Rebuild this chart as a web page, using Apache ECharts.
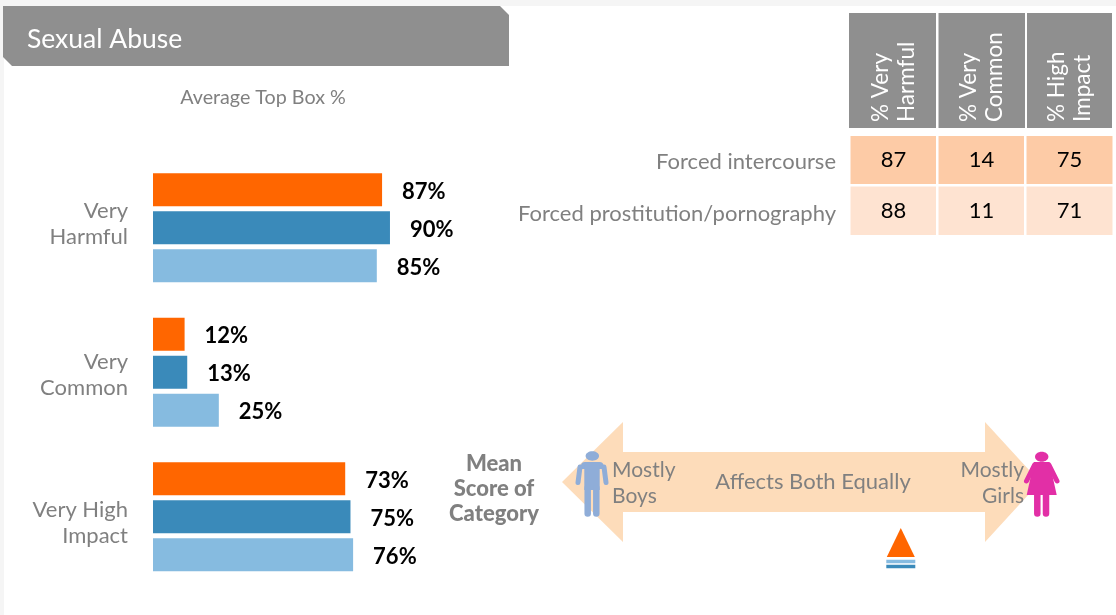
<!DOCTYPE html>
<html><head><meta charset="utf-8">
<style>html,body{margin:0;padding:0;background:#fff}#c{width:1116px;height:615px}</style>
<script src="https://cdn.jsdelivr.net/npm/echarts@6/dist/echarts.min.js"></script>
</head><body><div id="c"></div>
<script>
const FONT='Lato';
const GREY='#808080';
const measures=['Very\nHarmful','Very\nCommon','Very High\nImpact'];
const seriesOrange=[87,12,73];
const seriesBlue=[90,13,75];
const seriesLight=[85,25,76];
const tableCols=['% Very\nHarmful','% Very\nCommon','% High\nImpact'];
const tableRows=['Forced intercourse','Forced prostitution/pornography'];
const rowIntercourse=[87,14,75];
const rowProstitution=[88,11,71];
const meanScore=[70];

const chart=echarts.init(document.getElementById('c'),null,{renderer:'canvas'});
function bar(name,data,color){
  return {type:'bar',name,data,xAxisIndex:0,yAxisIndex:0,barWidth:33,barGap:'15%',
    itemStyle:{color},silent:true,animation:false,
    label:{show:true,position:'right',distance:20,offset:[0,2],formatter:'{c}%',fontFamily:FONT,fontWeight:'bold',fontSize:22,color:'#000'}};
}
const heatData=[];
rowIntercourse.forEach((v,i)=>heatData.push({value:[i,0,v],itemStyle:{color:'#fdcba6'}}));
rowProstitution.forEach((v,i)=>heatData.push({value:[i,1,v],itemStyle:{color:'#fee3d1'}}));
function mark(name,symbol,size,offset,color){
  return {type:'scatter',name,xAxisIndex:2,yAxisIndex:2,data:meanScore.map(v=>[v,0]),symbol,symbolSize:size,symbolOffset:[0,offset],
    itemStyle:{color,opacity:1},silent:true,animation:false};
}
const bg=(o)=>Object.assign({z:-10,silent:true},o);
function limb(pts,w,color){return {type:'polyline',z:2,silent:true,shape:{points:pts},style:{stroke:color,lineWidth:w,lineCap:'round',fill:null}};}
const M='#8fadd8',W='#e22fa6';
const txt=(text,x,y,align,size,extra)=>({type:'text',z:3,silent:true,x,y,style:Object.assign({text,fill:GREY,fontFamily:FONT,fontSize:size,align,verticalAlign:'middle'},extra||{})});
// Rich-text tokens: extra padding above a first line / below a last line nudges a centred label.
const tok=(size,pad)=>({fontFamily:FONT,fontSize:size,color:GREY,padding:pad,align:'right'});
const measureRich={
  p:tok(22,[2,0,2,0]),
  h1:tok(22,[2,0,2,0]),h2:tok(22,[2,0,10,0]),
  c1:tok(22,[8,0,2,0]),
  i1:tok(22,[14,0,2,0])
};
const measureFirst=['h1','c1','i1'];
const measureLast=['h2','p','p'];
const rowRich={r0:tok(22,[4,0,0,0]),r1:tok(22,[6,0,0,0])};

chart.setOption({
  animation:false,
  backgroundColor:'#fff',
  grid:[
    {left:153,top:155.5,width:263.3,height:433.5},
    {left:849.5,top:135,width:264,height:101},
    {left:562,top:520,width:484,height:55}
  ],
  xAxis:[
    {type:'value',gridIndex:0,min:0,max:100,show:false},
    {type:'category',gridIndex:1,data:tableCols,position:'top',axisLine:{show:false},axisTick:{show:false},
      axisLabel:{rotate:-90,margin:13,fontFamily:FONT,fontSize:22.5,lineHeight:26,color:'#fff'}},
    {type:'value',gridIndex:2,min:0,max:100,show:false}
  ],
  yAxis:[
    {type:'category',gridIndex:0,data:measures,inverse:true,axisLine:{show:false},axisTick:{show:false},
      axisLabel:{margin:25,rich:measureRich,
        formatter:(v,i)=>{const [a,b]=v.split('\n');return '{'+measureFirst[i]+'|'+a+'}\n{'+measureLast[i]+'|'+b+'}';}}},
    {type:'category',gridIndex:1,data:tableRows,inverse:true,axisLine:{show:false},axisTick:{show:false},
      axisLabel:{margin:13.5,rich:rowRich,formatter:(v,i)=>'{r'+i+'|'+v+'}'}},
    {type:'category',gridIndex:2,data:['mean'],show:false}
  ],
  series:[
    bar('Forced intercourse',seriesOrange,'#ff6600'),
    bar('Forced prostitution/pornography',seriesBlue,'#3a8aba'),
    bar('Average',seriesLight,'#86bbe0'),
    {type:'heatmap',xAxisIndex:1,yAxisIndex:1,data:heatData,silent:true,animation:false,
      itemStyle:{borderColor:'#fff',borderWidth:2.5},
      label:{show:true,formatter:p=>p.value[2],fontFamily:FONT,fontSize:22,color:'#000'}},
    mark('Mean','triangle',[28,29],-5,'#ff6600'),
    mark('Mean light','rect',[29,3.5],14,'#86bbe0'),
    mark('Mean blue','rect',[29,3.5],19,'#3a8aba')
  ],
  graphic:{elements:[
    bg({type:'rect',shape:{x:0,y:0,width:1116,height:6},style:{fill:'#f5f5f5'}}),
    bg({type:'rect',shape:{x:0,y:0,width:4,height:615},style:{fill:'#f5f5f5'}}),
    bg({type:'polygon',shape:{points:[[3,6],[500,6],[509,15],[509,66],[12,66],[3,57]]},style:{fill:'#8f8f8f'}}),
    bg({type:'rect',shape:{x:849,y:13,width:87,height:115},style:{fill:'#8f8f8f'}}),
    bg({type:'rect',shape:{x:938.5,y:13,width:86.5,height:115},style:{fill:'#8f8f8f'}}),
    bg({type:'rect',shape:{x:1027,y:13,width:85,height:115},style:{fill:'#8f8f8f'}}),
    bg({type:'polygon',shape:{points:[[562,482],[623,422],[623,452],[985,452],[985,422],[1040,482],[985,542],[985,512],[623,512],[623,542]]},style:{fill:'#fddcba'}}),
    txt('Sexual Abuse',27,39,'left',26.5,{fill:'#fff'}),
    txt('Average Top Box %',263,98,'center',19.7),
    txt('Mean\nScore of\nCategory',494,489,'center',22,{fontWeight:900,lineHeight:25}),
    txt('Mostly\nBoys',612,483.5,'left',21,{lineHeight:26}),
    txt('Affects Both Equally',813,482,'center',22),
    txt('Mostly\nGirls',1024,483.5,'right',21,{lineHeight:26}),
    // boy
    {type:'ellipse',z:2,silent:true,shape:{cx:592.3,cy:456,rx:6.7,ry:4.7},style:{fill:M}},
    {type:'rect',z:2,silent:true,shape:{x:581,y:462,width:22.5,height:7,r:[4,4,0,0]},style:{fill:M}},
    {type:'rect',z:2,silent:true,shape:{x:584.3,y:465,width:15.4,height:25},style:{fill:M}},
    limb([[580,467],[578,482.5]],5,M),limb([[604,467],[606,482.5]],5,M),
    limb([[587.7,488],[587.7,513.5]],6.5,M),limb([[596.3,488],[596.3,513.5]],6.5,M),
    // girl
    {type:'ellipse',z:2,silent:true,shape:{cx:1041.7,cy:456.7,rx:6.7,ry:5},style:{fill:W}},
    {type:'polygon',z:2,silent:true,shape:{points:[[1034,462],[1049.5,462],[1056.7,495],[1026.7,495]]},style:{fill:W}},
    limb([[1034.5,465],[1026.5,481]],5,W),limb([[1049,465],[1057,481]],5,W),
    limb([[1037.3,495],[1037.3,513.5]],6.5,W),limb([[1046,495],[1046,513.5]],6.5,W)
  ]}
});
</script></body></html>
